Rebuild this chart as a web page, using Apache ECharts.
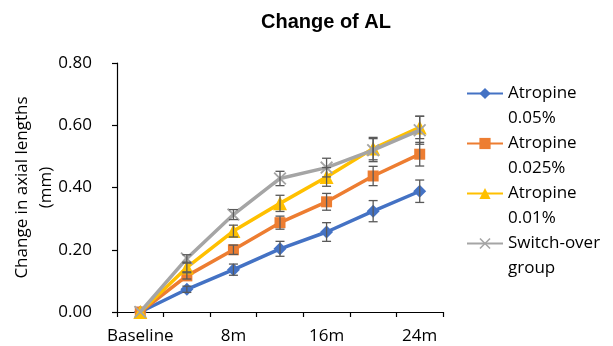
<!DOCTYPE html>
<html>
<head>
<meta charset="utf-8">
<script src="https://cdn.jsdelivr.net/npm/echarts@6/dist/echarts.min.js"></script>
<style>html,body{margin:0;padding:0;background:#fff}#c{width:613px;height:346px}</style>
</head>
<body>
<div id="c"></div>
<script>
const categories = ['Baseline', '4m', '8m', '12m', '16m', '20m', '24m'];
const seriesNames = ['Atropine 0.05%', 'Atropine 0.025%', 'Atropine 0.01%', 'Switch-over group'];
const legendLines = [['Atropine', '0.05%'], ['Atropine', '0.025%'], ['Atropine', '0.01%'], ['Switch-over', 'group']];
const atropine005 = [0, 0.073, 0.136, 0.203, 0.257, 0.324, 0.388];
const atropine005Err = [0, 0.010, 0.018, 0.024, 0.030, 0.034, 0.036];
const atropine0025 = [0, 0.116, 0.200, 0.287, 0.354, 0.437, 0.507];
const atropine0025Err = [0, 0.010, 0.015, 0.021, 0.027, 0.031, 0.038];
const atropine001 = [0, 0.143, 0.260, 0.349, 0.434, 0.525, 0.593];
const atropine001Err = [0, 0.014, 0.019, 0.026, 0.030, 0.036, 0.036];
const switchOver = [0, 0.172, 0.313, 0.429, 0.464, 0.520, 0.584];
const switchOverErr = [0, 0.012, 0.016, 0.023, 0.030, 0.037, 0.045];
const yTicks = [0, 0.2, 0.4, 0.6, 0.8];

const means = [atropine005, atropine0025, atropine001, switchOver];
const errs = [atropine005Err, atropine0025Err, atropine001Err, switchOverErr];
const colors = ['#4472C4', '#ED7D31', '#FFC000', '#A5A5A5'];
const xPath = 'path://M0,1L1,0L5,4L9,0L10,1L6,5L10,9L9,10L5,6L1,10L0,9L4,5Z';
const symbols = ['diamond', 'rect', 'triangle', xPath];
const symbolSizes = [13, 11, 14, 13];

const chart = echarts.init(document.getElementById('c'));
const FONT = 'Open Sans';

const series = [];
means.forEach((m, i) => {
  series.push({
    name: seriesNames[i],
    type: 'line',
    data: m,
    symbol: symbols[i],
    symbolSize: symbolSizes[i],
    showAllSymbol: true,
    lineStyle: { color: colors[i], width: 3.5 },
    itemStyle: { color: colors[i] },
    z: 2 + i,
    animation: false
  });
});
means.forEach((m, i) => {
  series.push({
    type: 'custom',
    name: seriesNames[i] + ' err',
    data: m.map((v, k) => [k, v, errs[i][k]]),
    z: 10,
    silent: true,
    animation: false,
    renderItem: function (params, api) {
      const k = api.value(0), v = api.value(1), e = api.value(2);
      if (!e) return null;
      const top = api.coord([k, v + e]);
      const bot = api.coord([k, v - e]);
      const w = 4.5;
      const st = { stroke: '#595959', lineWidth: 1.3 };
      return {
        type: 'group',
        children: [
          { type: 'line', shape: { x1: top[0], y1: top[1], x2: bot[0], y2: bot[1] }, style: st },
          { type: 'line', shape: { x1: top[0] - w, y1: top[1], x2: top[0] + w, y2: top[1] }, style: st },
          { type: 'line', shape: { x1: bot[0] - w, y1: bot[1], x2: bot[0] + w, y2: bot[1] }, style: st }
        ]
      };
    }
  });
});

chart.setOption({
  backgroundColor: '#fff',
  animation: false,
  title: {
    text: 'Change of AL',
    left: 256, top: 7,
    textStyle: { fontFamily: 'Liberation Sans', fontWeight: 'bold', fontSize: 20, color: '#000' }
  },
  legend: {
    orient: 'vertical',
    left: 466, top: 56,
    padding: 0,
    itemGap: -25,
    itemWidth: 36, itemHeight: 14,
    data: seriesNames,
    formatter: function (name) {
      const idx = seriesNames.indexOf(name);
      return '\n' + legendLines[idx].join('\n');
    },
    textStyle: { fontFamily: FONT, fontSize: 17, color: '#000', lineHeight: 25 }
  },
  grid: { left: 117, right: 170, top: 63, bottom: 34, containLabel: false, outerBoundsMode: 'none' },
  xAxis: {
    type: 'category',
    data: categories,
    boundaryGap: true,
    axisLine: { lineStyle: { color: '#000', width: 1.2 } },
    axisTick: { show: true, interval: 0, length: 5, lineStyle: { color: '#000', width: 1.2 } },
    axisLabel: { interval: 1, fontFamily: FONT, fontSize: 17, color: '#000', margin: 16 },
    splitLine: { show: false }
  },
  yAxis: {
    type: 'value',
    min: 0, max: 0.8, interval: 0.2,
    name: 'Change in axial lengths\n(mm)',
    nameLocation: 'middle',
    nameGap: 59,
    nameMoveOverlap: false,
    nameTextStyle: { fontFamily: FONT, fontSize: 17, color: '#000', lineHeight: 24 },
    axisLine: { show: true, lineStyle: { color: '#000', width: 1.2 } },
    axisTick: { show: true, length: 5, lineStyle: { color: '#000', width: 1.2 } },
    axisLabel: { fontFamily: FONT, fontSize: 17, color: '#000', margin: 25,
      formatter: v => v.toFixed(2) },
    splitLine: { show: false }
  },
  series: series
});
</script>
</body>
</html>
